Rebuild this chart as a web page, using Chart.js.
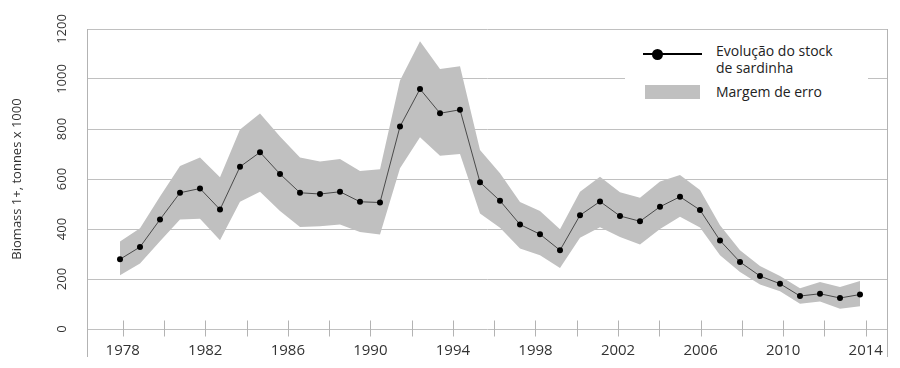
<!DOCTYPE html>
<html>
<head>
<meta charset="utf-8">
<script src="https://cdn.jsdelivr.net/npm/chart.js@4.4.1/dist/chart.umd.min.js"></script>
<style>
  html, body { margin: 0; padding: 0; background: #fff; }
  #wrap { position: relative; width: 900px; height: 368px; }
  #legend {
    position: absolute; left: 625px; top: 40px; width: 243px; height: 68px;
    background: #fff; font-family: "Open Sans", sans-serif; font-size: 14px; color: #222;
  }
  #legend .ln { position: absolute; left: 18px; top: 13px; width: 59px; height: 1.5px; background: #000; }
  #legend .dot { position: absolute; left: 27px; top: 8.5px; width: 11px; height: 11px; border-radius: 50%; background: #000; }
  #legend .box { position: absolute; left: 20px; top: 45px; width: 55px; height: 14px; background: #c0c0c0; }
  #legend .t1 { position: absolute; left: 91px; top: 2px; line-height: 17px; }
  #legend .t2 { position: absolute; left: 91px; top: 43px; line-height: 17px; }
</style>
</head>
<body>
<div id="wrap">
  <canvas id="chartStock" width="900" height="368"></canvas>
  <div id="legend">
    <div class="ln"></div><div class="dot"></div>
    <div class="t1">Evolução do stock<br>de sardinha</div>
    <div class="box"></div>
    <div class="t2">Margem de erro</div>
  </div>
</div>
<script>
// points of the series (38 of them, as drawn)
const years = [1978, 1979, 1980, 1981, 1982, 1983, 1984, 1985, 1986, 1987,
  1988, 1989, 1990, 1991, 1992, 1993, 1994, 1995, 1996, 1997,
  1998, 1999, 2000, 2001, 2002, 2003, 2004, 2005, 2006, 2007,
  2008, 2009, 2010, 2011, 2012, 2013, 2014, 2015];

const biomass = [279, 328, 438, 545, 562, 478, 649, 707, 620, 545,
  540, 549, 509, 506, 810, 960, 863, 877, 587, 513,
  418, 379, 315, 455, 510, 452, 431, 489, 529, 476,
  354, 268, 212, 181, 132, 141, 124, 138];

const upperBound = [350, 403, 530, 652, 686, 607, 798, 862, 770, 686,
  670, 680, 632, 639, 994, 1151, 1040, 1051, 716, 623,
  508, 472, 399, 549, 609, 547, 525, 590, 616, 556,
  415, 315, 252, 212, 163, 188, 168, 192];

const lowerBound = [215, 262, 351, 438, 441, 355, 509, 549, 472, 408,
  411, 418, 388, 378, 643, 767, 693, 700, 462, 405,
  322, 295, 244, 365, 407, 368, 338, 400, 449, 406,
  295, 228, 178, 151, 101, 110, 81, 91];

// axis ticks
const tickYears = [1978, 1980, 1982, 1984, 1986, 1988, 1990, 1992, 1994, 1996,
  1998, 2000, 2002, 2004, 2006, 2008, 2010, 2012, 2014];
const labelYears = [1978, 1982, 1986, 1990, 1994, 1998, 2002, 2006, 2010, 2014];

const FONT = '"Open Sans", sans-serif';
const GRID = '#c0c0c0';
const FRAME = '#b3b3b3';

function toPoints(values) {
  return values.map((v, i) => ({ x: years[i], y: v }));
}

// frame lines and the small ticks that cross the x axis
const framePlugin = {
  id: 'frame',
  afterDraw(chart) {
    const ctx = chart.ctx;
    const area = chart.chartArea;
    const xs = chart.scales.x;
    const y0 = Math.round(chart.scales.y.getPixelForValue(0)) + 0.5;
    ctx.save();
    ctx.strokeStyle = FRAME;
    ctx.lineWidth = 1;
    ctx.beginPath();
    const l = Math.round(area.left) + 0.5;
    const r = Math.round(area.right) - 0.5;
    ctx.moveTo(l, area.top); ctx.lineTo(l, area.bottom + 28);
    ctx.moveTo(r, area.top); ctx.lineTo(r, area.bottom + 28);
    xs.ticks.forEach(t => {
      const px = Math.round(xs.getPixelForValue(t.value)) + 0.5;
      ctx.moveTo(px, y0 - 9);
      ctx.lineTo(px, y0 + 7);
    });
    ctx.stroke();
    ctx.restore();
  }
};

new Chart(document.getElementById('chartStock'), {
  type: 'line',
  data: {
    datasets: [{
      label: 'Evolução do stock de sardinha',
      data: toPoints(biomass),
      xAxisID: 'xd',
      borderColor: '#4a4a4a',
      borderWidth: 1,
      pointRadius: 3,
      pointBackgroundColor: '#000',
      pointBorderWidth: 0,
      fill: false,
      order: 0
    }, {
      label: 'Margem de erro',
      data: toPoints(upperBound),
      xAxisID: 'xd',
      borderWidth: 0,
      pointRadius: 0,
      backgroundColor: '#c0c0c0',
      fill: '+1',
      order: 1
    }, {
      label: 'lower',
      data: toPoints(lowerBound),
      xAxisID: 'xd',
      borderWidth: 0,
      pointRadius: 0,
      fill: false,
      order: 2
    }]
  },
  options: {
    responsive: false,
    animation: false,
    layout: { padding: { top: 29, right: 12, left: 0, bottom: 0 } },
    plugins: { legend: { display: false }, tooltip: { enabled: false } },
    scales: {
      xd: {
        type: 'linear', display: false,
        min: 1976.35, max: 2016.4
      },
      x: {
        type: 'linear', position: 'bottom',
        min: 1976.27, max: 2015.08,
        afterBuildTicks: s => { s.ticks = tickYears.map(v => ({ value: v })); },
        afterFit: s => { s.height = 39; },
        grid: { display: false, drawTicks: false },
        border: { display: false },
        ticks: {
          autoSkip: false, maxRotation: 0, padding: 13,
          font: { family: FONT, size: 15 }, color: '#333',
          callback: v => labelYears.includes(v) ? String(v) : ''
        }
      },
      y: {
        min: 0, max: 1200,
        afterFit: s => { s.width = 87; },
        grid: { color: GRID, lineWidth: 1, drawTicks: false },
        border: { display: false },
        ticks: {
          stepSize: 200, minRotation: 90, maxRotation: 90,
          crossAlign: 'center', padding: 10,
          font: { family: FONT, size: 13 }, color: '#333',
          callback: v => String(v)
        },
        title: {
          display: true, text: 'Biomass 1+, tonnes x 1000',
          font: { family: FONT, size: 13 }, color: '#333',
          padding: { top: 9, bottom: 0 }
        }
      }
    }
  },
  plugins: [framePlugin]
});
</script>
</body>
</html>
